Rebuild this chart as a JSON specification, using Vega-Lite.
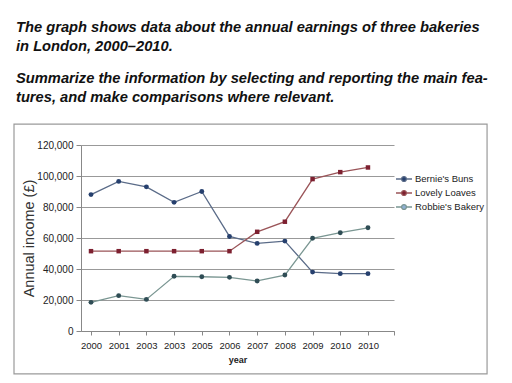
{
  "$schema": "https://vega.github.io/schema/vega-lite/v6.json",
  "width": 313,
  "height": 186,
  "autosize": {"type": "none"},
  "padding": {"left": 81, "top": 145, "right": 118, "bottom": 52},
  "background": "#ffffff",
  "config": {"view": {"stroke": null}, "font": "Liberation Sans",
    "axisX": {
      "titleFont": "Liberation Sans", "titleFontSize": 9, "titleFontWeight": "bold", "titleColor": "#222222", "titlePadding": 6,
      "labelFontSize": 9.5, "labelColor": "#222222", "labelPadding": 5, "labelFlush": false, "labelOverlap": false,
      "tickSize": 4, "tickColor": "#888888", "domainColor": "#888888", "grid": false
    },
    "axisY": {
      "titleFont": "Liberation Sans", "titleFontSize": 14.5, "titleFontWeight": "normal", "titleColor": "#333333", "titlePadding": 0,
      "labelFontSize": 10, "labelColor": "#222222", "labelPadding": 3,
      "tickSize": 5, "tickColor": "#888888", "domainColor": "#888888", "grid": true, "gridColor": "#999999", "gridWidth": 1
    }
  },
  "title": {
    "text": ["The graph shows data about the annual earnings of three bakeries", "in London, 2000–2010."],
    "subtitle": ["Summarize the information by selecting and reporting the main fea-", "tures, and make comparisons where relevant."],
    "anchor": "start",
    "frame": "group",
    "dx": -65,
    "offset": 19,
    "font": "Liberation Sans",
    "fontSize": 14.7,
    "fontStyle": "italic",
    "fontWeight": "bold",
    "lineHeight": 19,
    "color": "#111111",
    "subtitleFont": "Liberation Sans",
    "subtitleFontSize": 14.7,
    "subtitleFontStyle": "italic",
    "subtitleFontWeight": "bold",
    "subtitleLineHeight": 19,
    "subtitleColor": "#111111",
    "subtitlePadding": 17
  },
  "data": {
    "values": [
      {"pos": 0, "year": "2000", "bakery": "Bernie's Buns", "income": 88000},
      {"pos": 1, "year": "2001", "bakery": "Bernie's Buns", "income": 96500},
      {"pos": 2, "year": "2003", "bakery": "Bernie's Buns", "income": 93000},
      {"pos": 3, "year": "2003", "bakery": "Bernie's Buns", "income": 83000},
      {"pos": 4, "year": "2005", "bakery": "Bernie's Buns", "income": 90000},
      {"pos": 5, "year": "2006", "bakery": "Bernie's Buns", "income": 61000},
      {"pos": 6, "year": "2007", "bakery": "Bernie's Buns", "income": 56500},
      {"pos": 7, "year": "2008", "bakery": "Bernie's Buns", "income": 58000},
      {"pos": 8, "year": "2009", "bakery": "Bernie's Buns", "income": 38000},
      {"pos": 9, "year": "2010", "bakery": "Bernie's Buns", "income": 37000},
      {"pos": 10, "year": "2010", "bakery": "Bernie's Buns", "income": 37000},
      {"pos": 0, "year": "2000", "bakery": "Lovely Loaves", "income": 51500},
      {"pos": 1, "year": "2001", "bakery": "Lovely Loaves", "income": 51500},
      {"pos": 2, "year": "2003", "bakery": "Lovely Loaves", "income": 51500},
      {"pos": 3, "year": "2003", "bakery": "Lovely Loaves", "income": 51500},
      {"pos": 4, "year": "2005", "bakery": "Lovely Loaves", "income": 51500},
      {"pos": 5, "year": "2006", "bakery": "Lovely Loaves", "income": 51500},
      {"pos": 6, "year": "2007", "bakery": "Lovely Loaves", "income": 64000},
      {"pos": 7, "year": "2008", "bakery": "Lovely Loaves", "income": 70500},
      {"pos": 8, "year": "2009", "bakery": "Lovely Loaves", "income": 98000},
      {"pos": 9, "year": "2010", "bakery": "Lovely Loaves", "income": 102500},
      {"pos": 10, "year": "2010", "bakery": "Lovely Loaves", "income": 105500},
      {"pos": 0, "year": "2000", "bakery": "Robbie's Bakery", "income": 18500},
      {"pos": 1, "year": "2001", "bakery": "Robbie's Bakery", "income": 22800},
      {"pos": 2, "year": "2003", "bakery": "Robbie's Bakery", "income": 20400},
      {"pos": 3, "year": "2003", "bakery": "Robbie's Bakery", "income": 35300},
      {"pos": 4, "year": "2005", "bakery": "Robbie's Bakery", "income": 35000},
      {"pos": 5, "year": "2006", "bakery": "Robbie's Bakery", "income": 34600},
      {"pos": 6, "year": "2007", "bakery": "Robbie's Bakery", "income": 32300},
      {"pos": 7, "year": "2008", "bakery": "Robbie's Bakery", "income": 36100},
      {"pos": 8, "year": "2009", "bakery": "Robbie's Bakery", "income": 59800},
      {"pos": 9, "year": "2010", "bakery": "Robbie's Bakery", "income": 63400},
      {"pos": 10, "year": "2010", "bakery": "Robbie's Bakery", "income": 66600}
    ]
  },
  "layer": [
    {
      "data": {"values": [{"box": "frame"}]},
      "mark": {"type": "rect", "fill": "#ffffff", "fillOpacity": 0, "stroke": "#9a9a9a", "strokeWidth": 1.2, "clip": false},
      "encoding": {
        "x": {"datum": -2.78, "type": "quantitative",
          "scale": {"domain": [-0.361, 10.94], "nice": false, "zero": false},
          "axis": {"title": "year", "values": [0, 1, 2, 3, 4, 5, 6, 7, 8, 9, 10, 10.94],
            "labelExpr": "datum.value > 10.5 ? '' : ['2000','2001','2003','2003','2005','2006','2007','2008','2009','2010','2010'][round(datum.value)]"}},
        "x2": {"datum": 14.3},
        "y": {"datum": 133500, "type": "quantitative",
          "scale": {"domain": [0, 120000], "nice": false},
          "axis": {"title": "Annual income (£)", "values": [0, 20000, 40000, 60000, 80000, 100000, 120000], "format": ",d"}},
        "y2": {"datum": -27700}
      }
    },
    {
      "mark": {"type": "line", "strokeWidth": 1.3},
      "encoding": {
        "x": {"field": "pos", "type": "quantitative",
          "axis": {"title": "year", "values": [0, 1, 2, 3, 4, 5, 6, 7, 8, 9, 10, 10.94],
            "labelExpr": "datum.value > 10.5 ? '' : ['2000','2001','2003','2003','2005','2006','2007','2008','2009','2010','2010'][round(datum.value)]"}},
        "y": {"field": "income", "type": "quantitative",
          "axis": {"title": "Annual income (£)", "values": [0, 20000, 40000, 60000, 80000, 100000, 120000], "format": ",d"}},
        "detail": {"field": "bakery"},
        "color": {
          "field": "bakery",
          "type": "nominal",
          "scale": {
            "domain": ["Bernie's Buns", "Lovely Loaves", "Robbie's Bakery"],
            "range": ["#5a6b88", "#9a5458", "#7a9692"]
          },
          "legend": {
            "orient": "none",
            "legendX": 314,
            "legendY": 25,
            "title": null,
            "symbolType": "M-1,0H-0.3M0.3,0H1M-0.3,0A0.3,0.3 0 1,0 0.3,0A0.3,0.3 0 1,0 -0.3,0",
            "symbolSize": 256,
            "symbolStrokeWidth": 1.3,
            "labelFontSize": 9.5,
            "labelColor": "#222222",
            "labelFont": "Liberation Sans",
            "labelOffset": 2,
            "rowPadding": 0,
            "encode": {
              "symbols": {
                "update": {
                  "stroke": {"signal": "indexof(datum.value,'Robbie')>=0 ? '#9dbbd9' : scale('color', datum.value)"},
                  "fill": {"signal": "indexof(datum.value,'Robbie')>=0 ? '#8fb0d4' : indexof(datum.value,'Lovely')>=0 ? '#7d2030' : '#26406e'"}
                }
              }
            }
          }
        }
      }
    },
    {
      "transform": [{"filter": "datum.bakery === 'Lovely Loaves'"}],
      "mark": {"type": "point", "filled": true, "shape": "square", "size": 20, "fill": "#7d2030", "opacity": 1},
      "encoding": {
        "x": {"field": "pos", "type": "quantitative",
          "axis": {"title": "year", "values": [0, 1, 2, 3, 4, 5, 6, 7, 8, 9, 10, 10.94],
            "labelExpr": "datum.value > 10.5 ? '' : ['2000','2001','2003','2003','2005','2006','2007','2008','2009','2010','2010'][round(datum.value)]"}},
        "y": {"field": "income", "type": "quantitative",
          "axis": {"title": "Annual income (£)", "values": [0, 20000, 40000, 60000, 80000, 100000, 120000], "format": ",d"}}
      }
    },
    {
      "transform": [{"filter": "indexof(datum.bakery,'Bernie') >= 0"}],
      "mark": {"type": "point", "filled": true, "shape": "circle", "size": 24, "fill": "#26406e", "opacity": 1},
      "encoding": {
        "x": {"field": "pos", "type": "quantitative",
          "axis": {"title": "year", "values": [0, 1, 2, 3, 4, 5, 6, 7, 8, 9, 10, 10.94],
            "labelExpr": "datum.value > 10.5 ? '' : ['2000','2001','2003','2003','2005','2006','2007','2008','2009','2010','2010'][round(datum.value)]"}},
        "y": {"field": "income", "type": "quantitative",
          "axis": {"title": "Annual income (£)", "values": [0, 20000, 40000, 60000, 80000, 100000, 120000], "format": ",d"}}
      }
    },
    {
      "transform": [{"filter": "indexof(datum.bakery,'Robbie') >= 0"}],
      "mark": {"type": "point", "filled": true, "shape": "circle", "size": 24, "fill": "#2f4d55", "opacity": 1},
      "encoding": {
        "x": {"field": "pos", "type": "quantitative",
          "axis": {"title": "year", "values": [0, 1, 2, 3, 4, 5, 6, 7, 8, 9, 10, 10.94],
            "labelExpr": "datum.value > 10.5 ? '' : ['2000','2001','2003','2003','2005','2006','2007','2008','2009','2010','2010'][round(datum.value)]"}},
        "y": {"field": "income", "type": "quantitative",
          "axis": {"title": "Annual income (£)", "values": [0, 20000, 40000, 60000, 80000, 100000, 120000], "format": ",d"}}
      }
    }
  ]
}
